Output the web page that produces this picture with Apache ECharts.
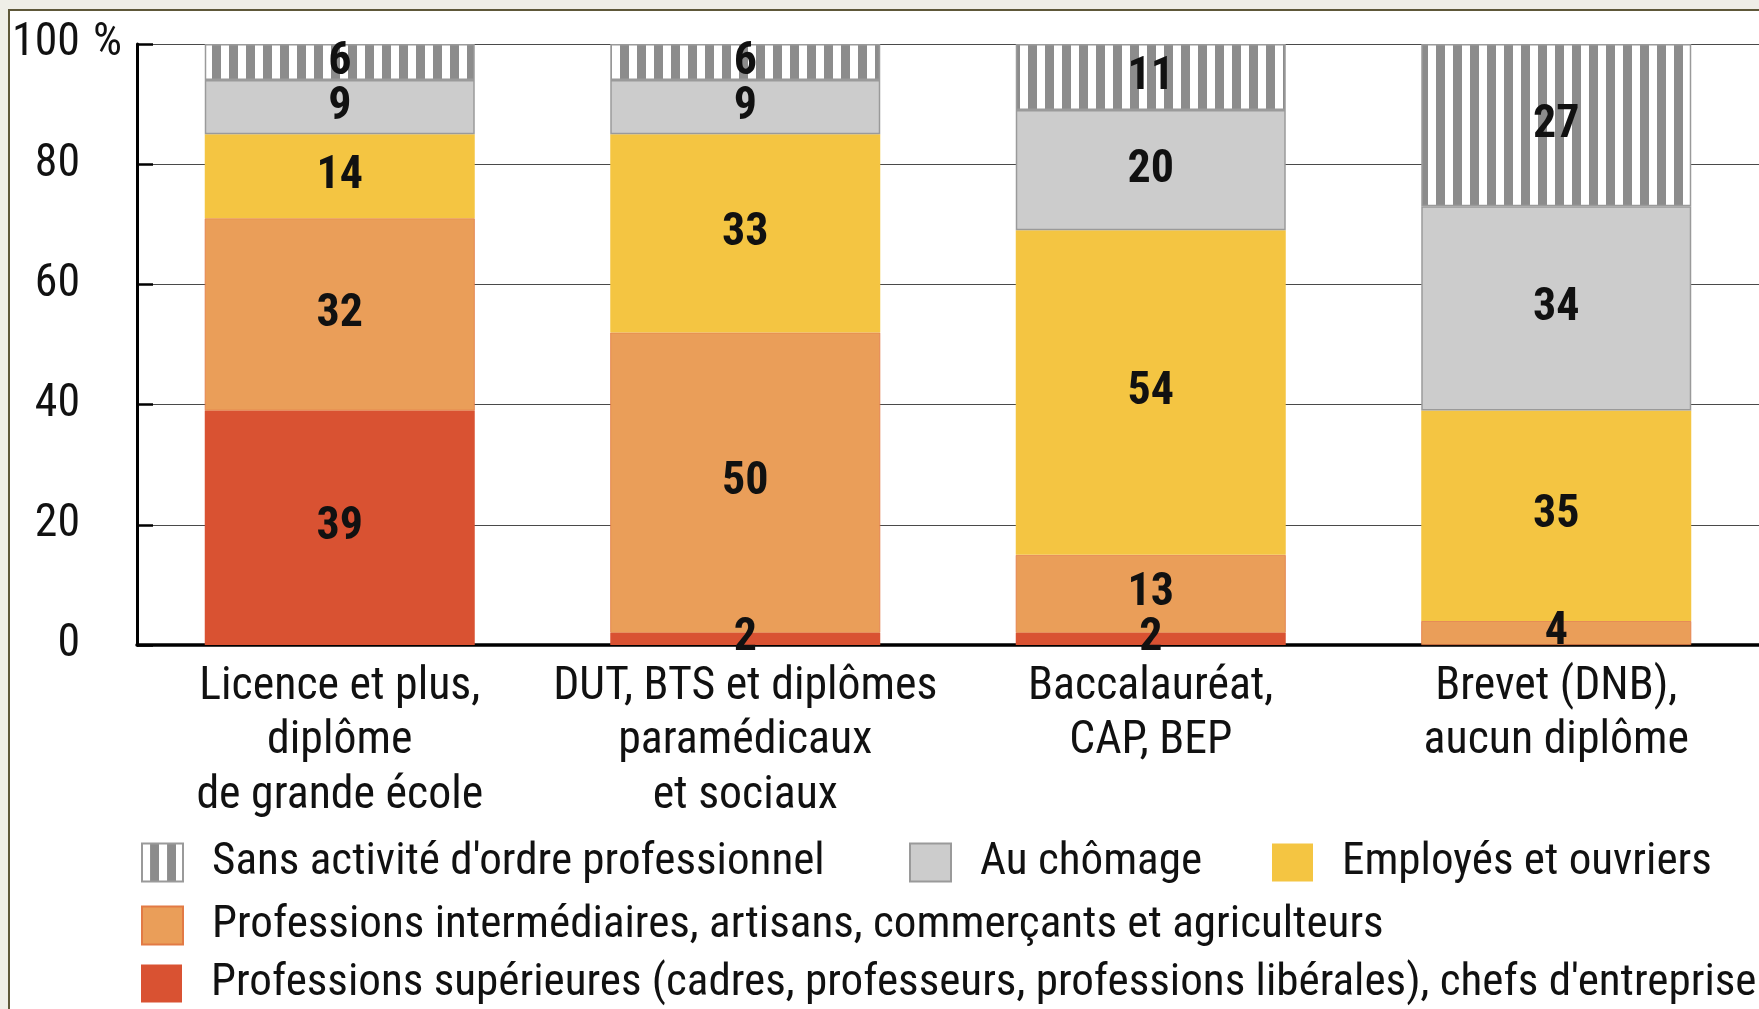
<!DOCTYPE html>
<html>
<head>
<meta charset="utf-8">
<script src="https://cdn.jsdelivr.net/npm/echarts@6/dist/echarts.min.js"></script>
<style>
  html, body { margin: 0; padding: 0; background: #efeee7; overflow: hidden; }
  #frame { position: absolute; left: 8px; top: 9px; right: 0; bottom: 0; background: #fff;
           border-left: 2px solid #5e5839; border-top: 2px solid #5e5839; }
  #chart { position: absolute; left: 0; top: 0; width: 1759px; height: 1009px; }
</style>
</head>
<body>
<div id="frame"></div>
<div id="chart"></div>
<script>
// categories (diplôme le plus élevé)
const categories = [
  'Licence et plus,\ndiplôme\nde grande école',
  'DUT, BTS et diplômes\nparamédicaux\net sociaux',
  'Baccalauréat,\nCAP, BEP',
  'Brevet (DNB),\naucun diplôme'
];

const nameSup = 'Professions supérieures (cadres, professeurs, professions libérales), chefs d\'entreprise';
const nameInter = 'Professions intermédiaires, artisans, commerçants et agriculteurs';
const nameEmp = 'Employés et ouvriers';
const nameChom = 'Au chômage';
const nameSans = 'Sans activité d\'ordre professionnel';

// values in %
const superieures = [39, 2, 2, 0];
const intermediaires = [32, 50, 13, 4];
const employes = [14, 33, 54, 35];
const chomage = [9, 9, 20, 34];
const sansActivite = [6, 6, 11, 27];

// the original uses a condensed face; take the narrowest one installed
const ctx = document.createElement('canvas').getContext('2d');
function textWidth(font, s) {
  ctx.font = font;
  return ctx.measureText(s).width;
}
function hasFont(name) {
  const s = 'mmmmmlliiWW DUT, BTS 0123';
  return textWidth('100px monospace', s) !== textWidth("100px '" + name + "', monospace", s) ||
         textWidth('100px serif', s) !== textWidth("100px '" + name + "', serif", s);
}
const candidates = ['Roboto Condensed', 'Liberation Sans Narrow', 'Arial Narrow', 'DejaVu Sans Condensed', 'Roboto', 'Liberation Sans'];
const fontName = candidates.find(hasFont) || 'sans-serif';
const FONT = "'" + fontName + "', sans-serif";

// sizes fitted to the widths measured on the original
const fontSize = Math.round(384 / textWidth("100px " + FONT, 'DUT, BTS et diplômes') * 100 * 10) / 10;
const legendSize = Math.round(fontSize * 0.985 * 10) / 10;
const boldSize = Math.round(46 / textWidth("bold 100px " + FONT, '39') * 100);
const numWidth = Math.ceil(textWidth(fontSize + 'px ' + FONT, '100'));

// vertical stripes for "sans activité"
function stripePattern() {
  const c = document.createElement('canvas');
  c.width = 17;
  c.height = 4;
  const g = c.getContext('2d');
  g.fillStyle = '#ffffff';
  g.fillRect(0, 0, 17, 4);
  g.fillStyle = '#8c8c8c';
  g.fillRect(8, 0, 9, 4);
  return { image: c, repeat: 'repeat' };
}

const label = {
  show: true,
  position: 'inside',
  color: '#111',
  fontFamily: FONT,
  fontWeight: 'bold',
  fontSize: boldSize,
  formatter: p => (p.value ? String(p.value) : '')
};

function bar(name, data, itemStyle) {
  return {
    name: name,
    type: 'bar',
    stack: 'total',
    barWidth: 270,
    data: data,
    label: label,
    itemStyle: itemStyle,
    emphasis: { disabled: true }
  };
}

const legendText = { fontFamily: FONT, fontSize: legendSize, color: '#111', lineHeight: 38, padding: [0, 0, 0, 24] };
function legendAt(name, left, top) {
  return {
    data: [name], left: left, top: top, padding: 0, orient: 'horizontal', icon: 'rect',
    itemWidth: 41, itemHeight: 38, selectedMode: false, textStyle: legendText
  };
}

const option = {
  animation: false,
  grid: { left: 137, top: 44, width: 1624, height: 601 },
  legend: [
    legendAt(nameSans, 141, 840),
    legendAt(nameChom, 909, 840),
    legendAt(nameEmp, 1272, 840),
    legendAt(nameInter, 141, 903),
    legendAt(nameSup, 141, 961)
  ],
  xAxis: {
    type: 'category',
    data: categories,
    axisLine: { lineStyle: { color: '#000', width: 3.5 } },
    axisTick: { inside: true, length: 14, lineStyle: { color: '#000', width: 2.5 } },
    axisLabel: { fontFamily: FONT, fontSize: fontSize, color: '#111', lineHeight: 54.5, margin: 15, interval: 0 }
  },
  yAxis: {
    type: 'value',
    min: 0,
    max: 100,
    interval: 20,
    axisLine: { show: true, lineStyle: { color: '#000', width: 3 } },
    axisTick: { show: true, inside: true, length: 16, lineStyle: { color: '#000', width: 2.5 } },
    splitLine: { show: true, lineStyle: { color: '#4a4a4a', width: 1.2 } },
    axisLabel: {
      fontFamily: FONT, fontSize: fontSize, color: '#111', align: 'left', margin: 137 - (80 - numWidth),
      formatter: v => '{n|' + v + '}' + (v === 100 ? '{p|%}' : ''),
      rich: {
        n: { width: numWidth, align: 'right', fontFamily: FONT, fontSize: fontSize, color: '#111' },
        p: { padding: [0, 0, 0, 13], fontFamily: FONT, fontSize: fontSize, color: '#111' }
      }
    }
  },
  series: [
    bar(nameSup, superieures, { color: '#d95232' }),
    bar(nameInter, intermediaires, { color: '#ea9e59', borderColor: '#e27a45', borderWidth: 0.8 }),
    bar(nameEmp, employes, { color: '#f4c542' }),
    bar(nameChom, chomage, { color: '#cccccc', borderColor: '#9a9a9a', borderWidth: 1.5 }),
    bar(nameSans, sansActivite, { color: stripePattern(), borderColor: '#9a9a9a', borderWidth: 1.5 })
  ]
};

const myChart = echarts.init(document.getElementById('chart'));
myChart.setOption(option);
</script>
</body>
</html>
